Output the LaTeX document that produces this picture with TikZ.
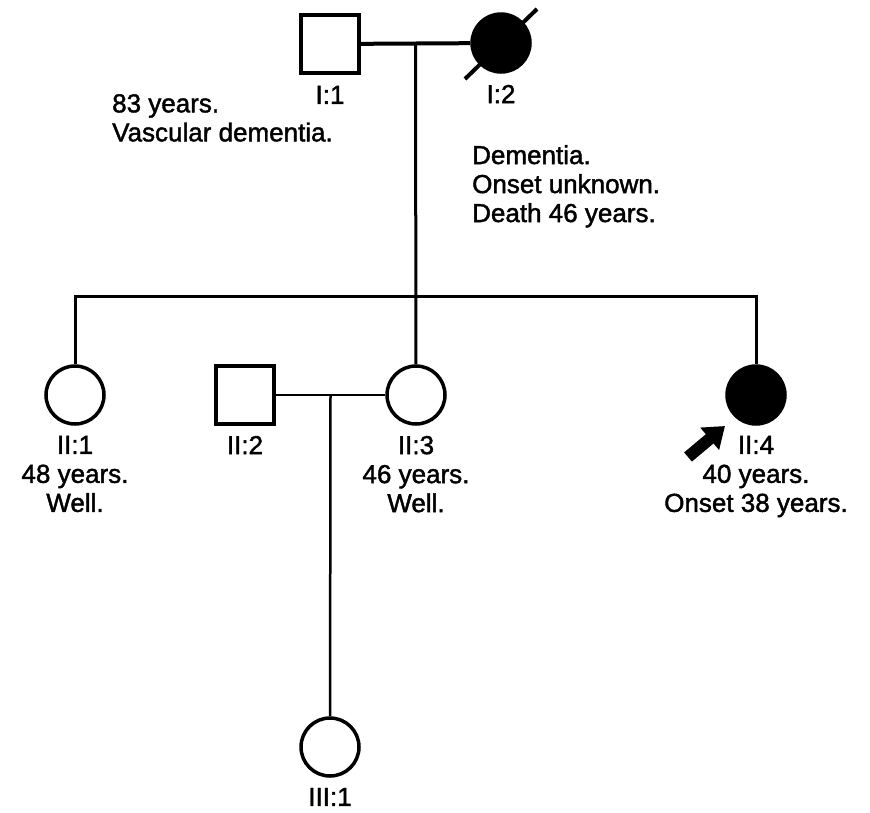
\documentclass[tikz,border=0pt]{standalone}
\usepackage{fontspec}
\setmainfont{Liberation Sans}[AutoFakeBold=1.6]
\usetikzlibrary{arrows.meta, positioning, calc}

\begin{document}
\begin{tikzpicture}[x=1pt, y=-1pt,
        every node/.style={font=\fontsize{26}{29}\selectfont\bfseries, inner sep=0pt},
        male/.style={rectangle, draw, line width=3.5pt, minimum size=58pt, fill=white},
        female/.style={circle, draw, line width=3.5pt, minimum size=58pt, fill=white},
        affected/.style={fill=black},
        lbl/.style={align=center},
        note/.style={align=left, anchor=north west},
        line/.style={line width=3pt},
        proband/.style={line width=12pt, -{Triangle[length=20pt, width=28pt]}}]
    \useasboundingbox[fill=white] (0,0) rectangle (870,812);

    % generation I
    \node[male] (i1) at (330,44) {};
    \node[female, affected] (i2) at (501,43) {};
    \draw[line width=4pt] ($(i2)+(-36,36)$) coordinate (dx1) -- ($(i2)+(36,-34)$) coordinate (dx2);
    \node[lbl, below=11pt of i1] (i1lbl) {I:1};
    \node[lbl, below=11pt of i2] (i2lbl) {I:2};
    \node[note] (i1note) at (112,94) {83 years.\\Vascular dementia.};
    \node[note] (i2note) at (472,145) {Dementia.\\Onset unknown.\\Death 46 years.};

    % generation II
    \node[female] (ii1) at (75,395) {};
    \node[male] (ii2) at (245,395) {};
    \node[female] (ii3) at (416,395) {};
    \node[female, affected] (ii4) at (756,395) {};
    \node[lbl, below=10pt of ii1] (ii1lbl) {II:1\\48 years.\\Well.};
    \node[lbl, below=10pt of ii2] (ii2lbl) {II:2};
    \node[lbl, below=10pt of ii3] (ii3lbl) {II:3\\46 years.\\Well.};
    \node[lbl, below=10pt of ii4] (ii4lbl) {II:4\\40 years.\\Onset 38 years.};

    % generation III
    \node[female] (iii1) at (330,747) {};
    \node[lbl, below=10pt of iii1] (iii1lbl) {III:1};

    % connectors
    \draw[line width=4pt] (i1) -- coordinate (m1) (i2);
    \coordinate (sib) at (415,296);
    \draw[line] (m1) -- (ii3);
    \draw[line] (ii1.north) |- (sib) -| (ii4.north);
    \draw[line width=2.5pt] (ii2) -- coordinate (m2) (ii3);
    \draw[line width=2.5pt] (m2) -- (iii1);

    % proband
    \coordinate (pbtail) at ($(ii4)+(-68,62)$);
    \coordinate (pbtip) at ($(ii4)+(-31,31)$);
    \draw[proband] (pbtail) -- (pbtip);
\end{tikzpicture}
\end{document}
